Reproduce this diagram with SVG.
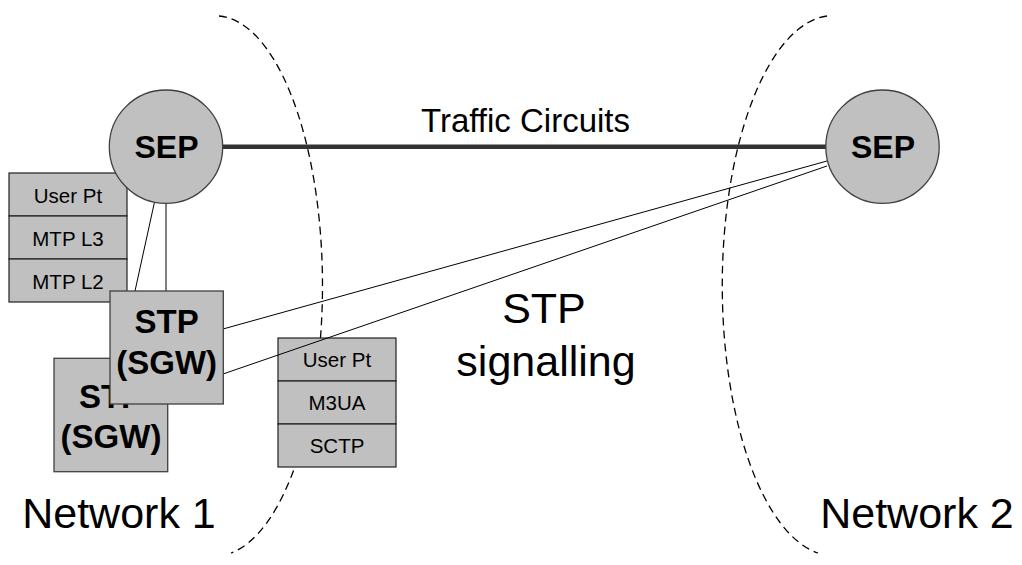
<svg xmlns="http://www.w3.org/2000/svg" width="1022" height="565" viewBox="0 0 1022 565">
  <style>
    .region { fill: none; stroke: #000; stroke-width: 1.3; stroke-dasharray: 8 5; }
    .node { fill: #c0c0c0; stroke: #404040; stroke-width: 1.3; }
    .row { fill: #c0c0c0; stroke: #202020; stroke-width: 1.2; }
    .link { stroke: #000; stroke-width: 1; fill: none; }
    .trunk { stroke: #333; stroke-width: 4.5; fill: none; }
    .bold { font-family: "Liberation Sans", Arial, sans-serif; font-weight: bold; fill: #000; text-anchor: middle; }
    .layer { font-family: "Liberation Sans", Arial, sans-serif; font-size: 20.5px; fill: #000; text-anchor: middle; }
    .label { font-family: "Liberation Sans", Arial, sans-serif; fill: #000; text-anchor: middle; }
  </style>
  <rect width="1022" height="565" fill="#fff"/>

  <!-- network boundaries -->
  <g id="boundaries">
    <path class="region" d="M 219 16 A 107 270 0 0 1 231 553"/>
    <path class="region" d="M 827 16 A 111 270 0 0 0 818 553"/>
  </g>

  <!-- SIGTRAN stack beside the boundary -->
  <g id="stack-m3ua">
    <rect class="row" x="278" y="338" width="118" height="43"/>
    <rect class="row" x="278" y="381" width="118" height="43"/>
    <rect class="row" x="278" y="424" width="118" height="43"/>
    <text class="layer" x="337" y="367">User Pt</text>
    <text class="layer" x="337" y="410">M3UA</text>
    <text class="layer" x="337" y="453">SCTP</text>
  </g>

  <!-- links -->
  <g id="connectors">
    <line class="trunk" x1="222" y1="146.7" x2="826" y2="146.7"/>
    <line class="link" x1="223" y1="329" x2="827" y2="161"/>
    <line class="link" x1="223" y1="374" x2="827" y2="166"/>
    <line class="link" x1="166" y1="203" x2="166" y2="291"/>
    <line class="link" x1="154.5" y1="202" x2="135" y2="291"/>
  </g>

  <!-- MTP stack -->
  <g id="stack-mtp">
    <rect class="row" x="9" y="173" width="118" height="43"/>
    <rect class="row" x="9" y="216" width="118" height="43"/>
    <rect class="row" x="9" y="259" width="118" height="43"/>
    <text class="layer" x="68" y="203">User Pt</text>
    <text class="layer" x="68" y="246">MTP L3</text>
    <text class="layer" x="68" y="289">MTP L2</text>
  </g>

  <g id="sep-1">
    <circle class="node" cx="166" cy="146.7" r="56.7"/>
    <text class="bold" x="166.5" y="157.5" font-size="32">SEP</text>
  </g>

  <g id="sep-2">
    <circle class="node" cx="882.5" cy="146.7" r="56.7"/>
    <text class="bold" x="883" y="157.5" font-size="32">SEP</text>
  </g>

  <g id="stp-back">
    <rect class="node" x="54" y="358.3" width="113.7" height="113.4"/>
    <text class="bold" x="111" y="408" font-size="33">STP</text>
    <text class="bold" x="111" y="448" font-size="33">(SGW)</text>
  </g>

  <g id="stp-front">
    <rect class="node" x="110" y="291" width="113.3" height="113"/>
    <text class="bold" x="166.7" y="333" font-size="33">STP</text>
    <text class="bold" x="166.7" y="374" font-size="33">(SGW)</text>
  </g>

  <!-- annotations -->
  <g id="labels">
    <text class="label" x="525.5" y="131.5" font-size="33">Traffic Circuits</text>
    <text class="label" x="544" y="323" font-size="43">STP</text>
    <text class="label" x="546" y="376" font-size="43">signalling</text>
    <text class="label" x="119" y="528" font-size="43">Network 1</text>
    <text class="label" x="917" y="528" font-size="43">Network 2</text>
  </g>
</svg>
